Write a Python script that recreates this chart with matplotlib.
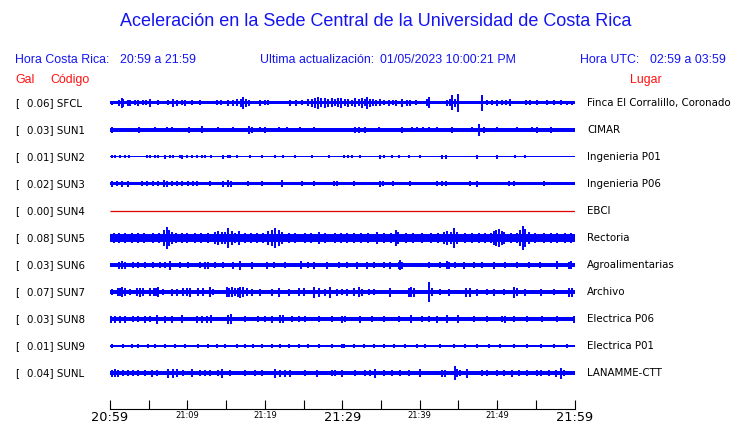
import matplotlib
matplotlib.use("Agg")
import matplotlib.pyplot as plt
from matplotlib.transforms import blended_transform_factory

# ---------------- data ----------------
codes = ["SFCL", "SUN1", "SUN2", "SUN3", "SUN4", "SUN5", "SUN6", "SUN7", "SUN8", "SUN9", "SUNL"]
gal = [0.06, 0.03, 0.01, 0.02, 0.00, 0.08, 0.03, 0.07, 0.03, 0.01, 0.04]
lugares = ["Finca El Corralillo, Coronado", "CIMAR", "Ingenieria P01", "Ingenieria P06", "EBCI",
           "Rectoria", "Agroalimentarias", "Archivo", "Electrica P06", "Electrica P01", "LANAMME-CTT"]
# background (noise) half-amplitude of each trace, relative units
base_amp = [1.5, 1.8, 0.5, 1.5, 0.0, 3.7, 2.0, 1.7, 2.3, 1.1, 2.0]

# (minute after 20:59, half-amplitude) of visible peaks, read from the record
sfcl = [(0.2,2),(1.2,3),(1.5,5),(1.7,4),(2.3,3),(2.6,3),(3.2,2.5),(3.66,3),(4.3,2.5),(4.6,2.5),(5.17,4),
        (6.25,2.5),(7.5,2.5),(8.2,4),(8.6,3),(9.27,2.5),(9.7,3),(10.56,2.5),(11.6,2.5),(13.8,2.5),(14.4,2.5),
        (15.3,3),(15.9,3),(16.4,3.5),(16.9,4),(17.24,6),(17.6,4),(17.9,3),(19.4,3),(20.0,2.5),(20.47,2.5),
        (23.3,3),(24.0,3),(24.8,2.5),(25.6,3.5),(26.1,4),(26.5,5),(26.9,6),(27.3,4.5),(27.8,5),(28.2,4),
        (28.7,4.5),(29.1,3.5),(29.5,4.5),(29.9,5),(30.3,3.5),(30.8,4),(31.3,3),(31.7,4.5),(32.1,3.5),(32.5,5),
        (32.9,3.5),(33.2,6),(33.6,4),(34.0,3.5),(34.4,3),(34.9,3.5),(35.4,2.5),(36.0,3),(36.5,2.5),(37.0,3),
        (37.7,4),(38.3,3),(38.8,3),(39.5,2.5),(40.9,3.5),(41.17,5.5),(43.5,3),(43.9,3.5),(44.19,7.5),(44.6,4),
        (44.93,9),(48.06,8),(48.7,2.5),(49.3,2.5),(50.0,3),(50.6,2.5),(51.2,2.5),(51.7,3.5),(53.7,2.5),
        (54.3,2.5),(55.2,2.5),(56.5,2.5),(57.3,2.5),(58.2,2.5),(59.0,2),(59.7,2)]
sun1 = [(0.2,3),(3.8,3),(5.8,2.5),(7.4,2.5),(8.0,2.5),(10.2,3),(11.85,3.5),(14.0,2.5),(15.9,2.5),(17.9,4),
        (18.3,3),(19.4,2.5),(20.0,3),(21.8,2.5),(22.9,2.5),(24.6,2.5),(26.3,2.5),(31.7,3),(32.2,3),(33.0,3),
        (34.7,2.5),(37.7,3),(39.0,2.5),(39.6,2.5),(40.4,2.5),(41.2,2.5),(42.3,2.5),(44.2,3),(46.8,2.5),
        (47.7,6),(48.3,3),(50.0,2.5),(52.6,2.5),(54.5,2.5),(55.2,3),(56.9,3)]
sun2 = [(0.22,1.5),(0.65,1.5),(1.29,1.5),(2.0,1.5),(2.46,1.5),(4.74,1.5),(5.17,1.5),(5.82,1.5),(6.25,1.5),
        (7.11,2),(7.76,1.5),(8.19,1.5),(9.05,1.5),(9.35,2),(9.91,1.5),(10.65,1.5),(11.21,1.5),(11.85,1.5),
        (12.28,1.5),(13.06,1.5),(14.65,2),(15.3,1.5),(15.52,1.5),(16.38,1.5),(18.1,1.5),(19.61,1.5),
        (21.33,1.5),(22.41,1.5),(23.92,1.5),(26.08,1.5),(28.23,1.5),(30.17,1.5),(30.8,1.5),(31.2,1.5),
        (32.33,1.5),(34.83,2),(35.35,1.5),(36.43,1.5),(37.29,1.5),(38.58,1.5),(40.09,1.5),(42.9,2),
        (43.46,2),(47.43,2),(50.0,2),(52.37,1.5),(53.67,1.5)]
sun3 = [(0.22,3),(0.86,2.5),(1.51,3),(2.37,3),(4.09,2.5),(4.74,2.5),(5.6,2.5),(6.25,2.5),(7.03,3.5),
        (7.33,3),(7.97,2.5),(8.62,2.5),(9.27,2.5),(10.13,2.5),(10.78,2.5),(11.21,2.5),(12.93,2.5),(14.65,3),
        (15.3,3.5),(15.65,3),(17.89,2.5),(19.61,2.5),(22.2,3.5),(24.78,2.5),(26.29,2.5),(28.88,2.5),
        (29.31,2.5),(31.46,2.5),(34.83,3),(35.26,2.5),(36.5,2.5),(38.8,2.5),(42.25,2.5),(42.9,2.5),
        (43.46,2.5),(46.56,2.5),(47.43,3),(51.52,2.5),(52.16,2.5),(56.04,2.5)]
sun4 = []
sun5 = [(0.5,4.5),(1.2,4.5),(2.0,4.5),(2.8,5),(3.6,4.5),(4.4,4.5),(5.6,5.5),(6.3,4.5),(7.03,8),(7.33,11),
        (7.63,8),(7.97,6),(8.5,5),(9.27,5),(10.0,4.5),(10.99,5),(11.8,4.5),(12.6,4.5),(13.58,6),(14.01,7),
        (14.44,6),(14.87,6),(15.3,10),(15.73,7),(16.2,5),(16.6,7),(17.46,5),(18.2,4.5),(19.0,4.5),(19.8,5),
        (20.47,7),(20.9,8),(21.33,9.5),(21.77,8),(22.2,6),(23.06,5),(23.9,4.5),(25.21,5),(26.0,4.5),
        (26.94,6),(27.8,4.5),(29.1,5),(29.9,4.5),(30.6,5),(31.5,4.5),(32.4,5),(33.3,4.5),(34.5,6),(35.4,4.5),
        (36.3,5),(36.9,8),(37.2,6),(38.2,4.5),(39.2,4.5),(40.3,5),(41.5,5),(42.4,5),(43.1,6),(43.5,7),
        (44.0,6),(44.4,10),(44.8,6),(45.8,5),(46.8,4.5),(47.6,5),(48.5,4.5),(49.2,5),(49.57,7),(49.9,8),
        (50.2,9),(50.6,7),(50.9,6),(51.8,4.5),(52.6,5),(53.0,8),(53.36,12),(53.67,9),(54.1,6),(54.9,4.5),
        (56.0,5),(57.0,4.5),(57.8,5),(58.8,4.5),(59.6,4.5)]
sun6 = [(1.2,3.5),(1.51,4),(1.9,3.5),(3.02,3),(3.66,3),(4.53,3),(5.6,3),(6.47,3),(7.11,3),(7.76,4.5),
        (9.05,3),(10.13,3),(11.64,3),(12.3,3.5),(12.6,3.5),(13.58,3),(14.65,3),(15.95,3.5),(16.81,4.5),
        (18.32,3.5),(20.26,3.5),(21.12,3),(22.63,3),(24.7,4),(25.64,3),(26.29,3.5),(28.02,3.5),(29.53,3),
        (30.6,3),(31.89,3.5),(33.19,3.5),(34.05,3),(35.35,3),(36.21,3.5),(37.3,3.5),(37.5,5),(37.7,3.5),
        (41.17,3),(42.68,3),(43.54,4),(43.8,3.5),(44.62,3),(45.7,3.5),(46.99,3),(48.06,3),(49.57,3.5),
        (51.08,3),(52.59,3),(54.1,3),(55.6,3),(57.76,4),(59.3,3.5),(59.6,4)]
sun7 = [(0.22,3),(1.08,4),(1.3,4),(1.51,5),(1.94,4),(2.59,3),(3.45,4),(3.88,4.5),(4.31,4),(5.17,4),
        (5.73,4),(6.0,4),(6.25,5),(6.9,3),(7.97,3.5),(8.62,3.5),(9.48,4),(10.0,4),(10.34,4.5),(11.42,4),
        (12.07,4),(12.93,5),(13.36,3),(15.09,5),(15.4,4.5),(15.73,5),(16.17,4),(16.5,4.5),(16.81,5.5),
        (17.24,5),(17.67,4),(18.32,3.5),(19.4,3.5),(20.9,3.5),(21.77,4.5),(23.06,3.5),(24.35,4),(25.0,4),
        (26.29,5.5),(26.94,4.5),(27.8,3.5),(28.45,5.5),(29.31,3.5),(29.96,3),(30.6,3.5),(31.46,4),(32.11,5),
        (32.54,3.5),(33.4,3),(34.05,3),(36.12,4.5),(38.58,4.5),(38.88,5),(39.23,4.5),(41.17,10),(41.6,4),
        (42.68,3),(43.76,3.5),(46.04,4.5),(46.47,4.5),(47.43,3.5),(48.72,3),(49.57,3.5),(50.87,3),
        (52.16,5.5),(52.59,4),(53.67,3.5),(55.61,3.5),(57.33,3),(59.3,4.5),(59.7,4.5)]
sun8 = [(0.14,3.5),(0.65,3.5),(1.29,3.5),(1.94,3.5),(3.02,3),(3.66,3),(4.53,3.5),(5.17,3),(6.12,4.5),
        (7.11,3.5),(7.97,3.5),(9.27,4),(11.21,3.5),(11.85,3.5),(12.5,3.5),(13.06,4),(15.3,4.5),(15.65,5),
        (17.46,3),(19.18,3),(20.04,3),(20.9,3.5),(21.98,4),(22.41,4),(23.49,3),(24.35,3),(25.21,3),
        (26.94,3),(28.66,3),(29.96,3.5),(30.39,3),(32.33,3.5),(33.84,3),(35.35,3),(37.29,3),(38.93,4),
        (40.31,3),(41.17,3),(42.25,3.5),(43.54,4),(44.96,4),(46.99,3),(48.72,3),(50.66,3),(51.08,3.5),
        (52.16,3),(53.88,3),(55.82,3),(57.76,3),(59.9,3.5)]
sun9 = [(0.22,1.7),(1.72,1.7),(2.8,1.7),(3.66,1.7),(4.96,1.7),(5.82,1.7),(7.11,1.7),(8.41,1.7),(9.7,1.7),
        (11.42,1.7),(12.71,1.7),(13.79,1.7),(14.87,1.7),(16.38,1.7),(17.46,1.7),(18.53,1.7),(19.61,1.7),
        (20.9,1.7),(21.98,1.7),(23.06,1.7),(24.35,1.7),(25.64,1.7),(26.94,1.7),(28.66,1.7),(29.96,1.7),
        (30.17,1.7),(31.46,1.7),(32.76,1.7),(34.05,1.7),(35.35,1.7),(36.64,1.7),(38.15,1.7),(39.66,1.7),
        (40.74,1.7),(42.68,1.7),(44.4,1.7),(45.91,1.7),(47.43,1.7),(48.94,1.7),(50.44,1.7),(52.16,1.7),
        (53.88,1.7),(55.61,1.7),(57.33,1.7),(59.05,1.7)]
sunl = [(0.22,3.5),(0.65,4),(1.08,3.5),(1.72,3),(2.37,3),(3.02,3),(3.66,3),(4.53,3),(5.39,3.5),(6.03,3),
        (7.54,4.5),(8.19,4.5),(8.62,4),(9.48,3),(10.56,4),(11.64,3),(12.28,3),(12.93,3),(14.01,3),(14.44,4.5),
        (15.52,3),(17.46,3),(18.75,3),(19.61,3),(21.33,4.5),(21.98,3.5),(22.63,3.5),(23.27,3.5),(25.21,3),
        (26.72,3.5),(28.66,3),(29.1,3),(29.96,3.5),(31.68,3),(32.97,3),(33.62,3),(34.27,4.5),(35.35,3),
        (36.43,3),(37.51,3),(38.58,3),(40.09,4),(42.9,3.5),(43.33,3.5),(44.53,7),(44.83,4),(45.26,3),
        (46.12,4.5),(48.06,3),(48.72,3),(49.97,3),(50.88,3),(51.95,3.5),(52.81,3),(53.89,3),(55.18,3),
        (55.61,3),(56.69,3),(57.55,3.5),(58.2,5.5),(58.63,3)]
peaks = [sfcl, sun1, sun2, sun3, sun4, sun5, sun6, sun7, sun8, sun9, sunl]

tick_minutes = list(range(0, 61, 5))
tick_labels = ["20:59", "", "21:09", "", "21:19", "", "21:29", "", "21:39", "", "21:49", "", "21:59"]
big_labels = {"20:59", "21:29", "21:59"}

# ---------------- figure ----------------
W, H = 740, 423
fig = plt.figure(figsize=(W / 100, H / 100), dpi=100)
BLUE = "#0000ff"
TXT_BLUE = "#1414f0"
RED = "#ff1010"

def fx(px):
    return px / W

def fy(py):
    return 1 - py / H

x0, x1 = 110, 574.5
row0, dy = 103, 27
n = len(codes)
top_px = row0 - dy / 2
bot_px = row0 + (n - 1) * dy + dy / 2
ax = fig.add_axes([fx(x0), fy(bot_px), fx(x1) - fx(x0), (bot_px - top_px) / H])
ax.set_xlim(0, 60)
ax.set_ylim(n - 0.5, -0.5)
ax.axis("off")
s = 1.0 / dy  # amplitude unit -> row units

for i, (pk, b) in enumerate(zip(peaks, base_amp)):
    if b == 0:
        ax.plot([0, 60], [i, i], color="#e00000", lw=0.9, solid_capstyle="butt")
        continue
    ax.fill_between([0, 60], i - b * s, i + b * s, color=BLUE, lw=0)
    if pk:
        t = [p[0] for p in pk]
        a = [p[1] for p in pk]
        ax.vlines(t, [i - v * s for v in a], [i + v * s for v in a], color=BLUE, lw=1.4)

# row labels
trl = blended_transform_factory(fig.transFigure, ax.transData)
for i in range(n):
    ax.text(fx(15), i, "[", transform=trl, fontsize=7.4, family="DejaVu Sans",
            va="center", ha="left", color="black")
    ax.text(fx(27), i, f"{gal[i]:.2f}] {codes[i]}", transform=trl, fontsize=7.4,
            family="DejaVu Sans", va="center", ha="left", color="black")
    ax.text(fx(587), i, lugares[i], transform=trl, fontsize=7.4, family="DejaVu Sans",
            va="center", ha="left", color="black")

# time axis
ax2 = fig.add_axes([fx(x0), fy(409), fx(x1) - fx(x0), 0.03])
ax2.set_xlim(0, 60)
ax2.set_facecolor("none")
for sp in ["top", "left", "right"]:
    ax2.spines[sp].set_visible(False)
ax2.spines["bottom"].set_linewidth(0.8)
ax2.set_yticks([])
ax2.set_xticks(tick_minutes)
ax2.set_xticklabels(tick_labels)
ax2.tick_params(axis="x", direction="in", length=6.2, width=0.8, pad=1.5)
for lab in ax2.get_xticklabels():
    if lab.get_text() in big_labels:
        lab.set_fontsize(9.3)
    else:
        lab.set_fontsize(6)
    lab.set_family("DejaVu Sans")

# titles / headers
FONT = "Liberation Sans"
fig.text(0.5 + 0.008, fy(22), "Aceleración en la Sede Central de la Universidad de Costa Rica",
         ha="center", va="center", fontsize=13.0, color=TXT_BLUE, family=FONT)
fig.text(fx(15), fy(60), "Hora Costa Rica:", ha="left", va="center", fontsize=8.9, color=TXT_BLUE, family=FONT)
fig.text(fx(120), fy(60), "20:59 a 21:59", ha="left", va="center", fontsize=8.9, color=TXT_BLUE, family=FONT)
fig.text(fx(260), fy(60), "Ultima actualización:", ha="left", va="center", fontsize=8.9, color=TXT_BLUE, family=FONT)
fig.text(fx(380), fy(60), "01/05/2023 10:00:21 PM", ha="left", va="center", fontsize=8.9, color=TXT_BLUE, family=FONT)
fig.text(fx(580), fy(60), "Hora UTC:", ha="left", va="center", fontsize=8.9, color=TXT_BLUE, family=FONT)
fig.text(fx(650), fy(60), "02:59 a 03:59", ha="left", va="center", fontsize=8.9, color=TXT_BLUE, family=FONT)
fig.text(fx(15), fy(80), "Gal", ha="left", va="center", fontsize=8.9, color=RED, family=FONT)
fig.text(fx(50), fy(80), "Código", ha="left", va="center", fontsize=8.9, color=RED, family=FONT)
fig.text(fx(630), fy(80), "Lugar", ha="left", va="center", fontsize=8.9, color=RED, family=FONT)

fig.savefig("out.png", dpi=100)
